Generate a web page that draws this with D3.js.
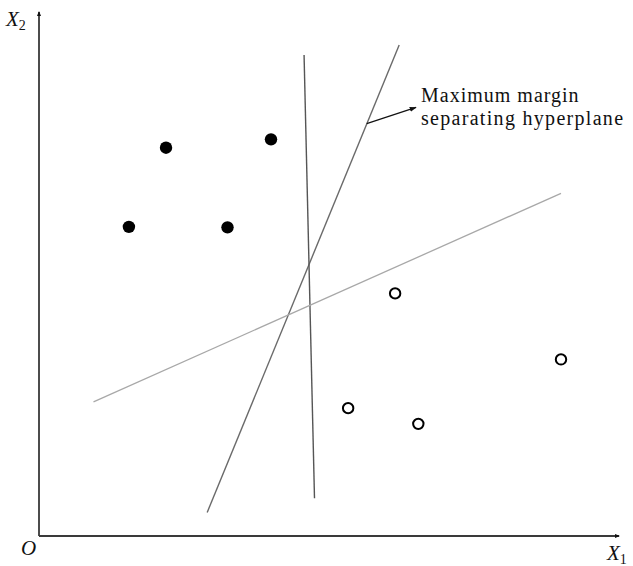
<!DOCTYPE html>
<html>
<head>
<meta charset="utf-8">
<script src="https://cdn.jsdelivr.net/npm/d3@7"></script>
<style>
  html, body { margin: 0; padding: 0; background: #fff; }
  svg { display: block; }
  text { font-family: "Liberation Serif", "DejaVu Serif", serif; fill: #111; }
</style>
</head>
<body>
<svg id="chart" width="633" height="566"></svg>
<script>
// Class A samples (filled) and class B samples (hollow), in feature units
const classA_x = [15.5, 21.9, 32.5, 40.0];
const classA_y = [59.0, 74.1, 58.9, 75.7];
const classB_x = [61.4, 90.0, 53.3, 65.4];
const classB_y = [46.3, 33.7, 24.4, 21.4];

// Candidate separating lines: [x1, y1, x2, y2]
const lineNames = ["maxMargin", "nearVertical", "shallow"];
const lineX1 = [29.0, 45.7, 9.4];
const lineY1 = [4.5, 91.8, 25.6];
const lineX2 = [62.1, 47.5, 90.0];
const lineY2 = [93.7, 7.2, 65.4];

// Annotation pointer from the max-margin line to its label
const noteFrom = [56.5, 78.7];
const noteTo = [65.0, 81.8];
const noteLines = ["Maximum margin", "separating hyperplane"];

const svg = d3.select("#chart");
const x = d3.scaleLinear().domain([0, 100]).range([39, 619]);
const y = d3.scaleLinear().domain([0, 100]).range([536, 12]);

const defs = svg.append("defs");
defs.append("marker")
  .attr("id", "tip").attr("viewBox", "0 0 10 10")
  .attr("refX", 9).attr("refY", 5)
  .attr("markerWidth", 7).attr("markerHeight", 7)
  .attr("markerUnits", "userSpaceOnUse")
  .attr("orient", "auto")
  .append("path").attr("d", "M0,1.5 L10,5 L0,8.5 Z").attr("fill", "#111");
defs.append("marker")
  .attr("id", "axisTip").attr("viewBox", "0 0 10 10")
  .attr("refX", 8).attr("refY", 5)
  .attr("markerWidth", 5).attr("markerHeight", 5)
  .attr("markerUnits", "userSpaceOnUse")
  .attr("orient", "auto")
  .append("path").attr("d", "M0,1 L10,5 L0,9 Z").attr("fill", "#111");

// Axes
svg.append("line")
  .attr("x1", x(0)).attr("y1", y(0)).attr("x2", x(0)).attr("y2", y(100))
  .attr("stroke", "#111").attr("stroke-width", 1.5)
  .attr("marker-end", "url(#axisTip)");
svg.append("line")
  .attr("x1", x(0)).attr("y1", y(0)).attr("x2", x(100)).attr("y2", y(0))
  .attr("stroke", "#3a3a3a").attr("stroke-width", 2)
  .attr("marker-end", "url(#axisTip)");

// Axis labels
const lab = svg.append("g").style("font-style", "italic").style("font-size", "21px");
const x2lab = lab.append("text").attr("x", 6).attr("y", 26);
x2lab.append("tspan").text("X");
x2lab.append("tspan").attr("dy", 4).style("font-size", "14px").style("font-style", "normal").text("2");
lab.append("text").attr("x", 21).attr("y", 555).text("O");
const x1lab = lab.append("text").attr("x", 607).attr("y", 560);
x1lab.append("tspan").text("X");
x1lab.append("tspan").attr("dy", 4).style("font-size", "14px").style("font-style", "normal").text("1");

// Separating lines
const lineColor = { maxMargin: "#6a6a6a", nearVertical: "#555", shallow: "#a8a8a8" };
const lines = lineNames.map((n, i) => ({ n, x1: lineX1[i], y1: lineY1[i], x2: lineX2[i], y2: lineY2[i] }));
svg.append("g").selectAll("line").data(lines).join("line")
  .attr("x1", d => x(d.x1)).attr("y1", d => y(d.y1))
  .attr("x2", d => x(d.x2)).attr("y2", d => y(d.y2))
  .attr("stroke", d => lineColor[d.n])
  .attr("stroke-width", d => d.n === "shallow" ? 1.3 : 1.4);

// Sample points
const ptsA = classA_x.map((v, i) => [v, classA_y[i]]);
const ptsB = classB_x.map((v, i) => [v, classB_y[i]]);
svg.append("g").selectAll("circle").data(ptsA).join("circle")
  .attr("cx", d => x(d[0])).attr("cy", d => y(d[1])).attr("r", 6.2)
  .attr("fill", "#000");
svg.append("g").selectAll("circle").data(ptsB).join("circle")
  .attr("cx", d => x(d[0])).attr("cy", d => y(d[1])).attr("r", 5.2)
  .attr("fill", "#fff").attr("stroke", "#000").attr("stroke-width", 2);

// Annotation
svg.append("line")
  .attr("x1", x(noteFrom[0])).attr("y1", y(noteFrom[1]))
  .attr("x2", x(noteTo[0])).attr("y2", y(noteTo[1]))
  .attr("stroke", "#111").attr("stroke-width", 1.2)
  .attr("marker-end", "url(#tip)");
svg.append("g").selectAll("text").data(noteLines).join("text")
  .attr("x", 421).attr("y", (d, i) => 102 + i * 23)
  .style("font-size", "20px")
  .style("letter-spacing", (d, i) => i === 0 ? "1px" : "1.3px")
  .text(d => d);
</script>
</body>
</html>
